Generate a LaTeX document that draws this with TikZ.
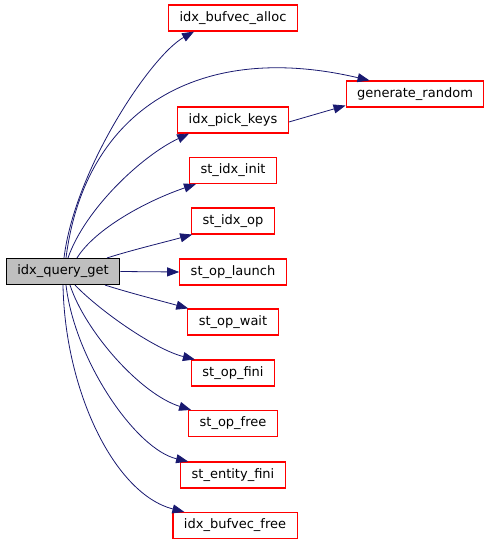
\documentclass[tikz,border=0pt]{standalone}
\usepackage{fontspec}
\setmainfont{DejaVu Sans}
\usetikzlibrary{arrows.meta,positioning,calc}
\definecolor{callblue}{HTML}{191970}
\definecolor{rootgray}{HTML}{BFBFBF}

\begin{document}
\begin{tikzpicture}[x=1pt, y=-1pt, font=\fontsize{13}{15}\selectfont,
  fn/.style={draw=red, line width=1.1pt, fill=white, minimum height=26pt, inner xsep=11pt, inner ysep=2pt},
  root/.style={fn, draw=black, fill=rootgray},
  call/.style={-{Triangle[length=12pt, width=9pt]}, draw=callblue, line width=0.8pt}]
  \useasboundingbox (0,0) rectangle (489,544);
  \node[root] (query) at (63,271.5) {idx\_query\_get};
  \node[fn] (alloc) at (233,18) {idx\_bufvec\_alloc};
  \node[fn] (gen) at (415,94) {generate\_random};
  \node[fn] (pick) at (233,120) {idx\_pick\_keys};
  \node[fn] (init) at (233,170.5) {st\_idx\_init};
  \node[fn] (op) at (233,221) {st\_idx\_op};
  \node[fn] (launch) at (233,272) {st\_op\_launch};
  \node[fn] (wait) at (233,322) {st\_op\_wait};
  \node[fn] (fini) at (233,373) {st\_op\_fini};
  \node[fn] (free) at (233,423.5) {st\_op\_free};
  \node[fn] (entity) at (233,475) {st\_entity\_fini};
  \node[fn] (bfree) at (235,525.5) {idx\_bufvec\_free};
  % upward calls
  \draw[call] ([xshift=1pt]query.north) .. controls +(11,-89) and +(-43,24) .. ([xshift=26pt]alloc.south west);
  \draw[call] ([xshift=3pt]query.north) .. controls +(19,-149) and +(-170,-40) .. ([xshift=24pt]gen.north west);
  \draw[call] ([xshift=5pt]query.north) .. controls +(17,-49) and +(-47,22) .. ([xshift=12pt]pick.south west);
  \draw[call] ([yshift=-2pt]pick.east) -- ([yshift=2pt]gen.south west);
  \draw[call] ([xshift=14pt]query.north) .. controls +(18,-29) and +(-50,17) .. ([xshift=7pt]init.south west);
  \draw[call] ([xshift=44pt]query.north) .. controls +(25,-8) and +(-25,7) .. ([xshift=1pt]op.south west);
  % straight and downward calls
  \draw[call] (query.east) -- (launch.west);
  \draw[call] ([xshift=42pt]query.south) .. controls +(25,8) and +(-25,-7) .. ([xshift=1pt]wait.north west);
  \draw[call] ([xshift=12pt]query.south) .. controls +(25,26) and +(-40,-10) .. ([xshift=4pt]fini.north west);
  \draw[call] ([xshift=7pt]query.south) .. controls +(15,46) and +(-51,-16) .. ([xshift=3pt]free.north west);
  \draw[call] ([xshift=3pt]query.south) .. controls +(9,76) and +(-52,-12) .. ([xshift=8pt]entity.north west);
  \draw[call] (query.south) .. controls +(2,106) and +(-70,-18) .. ([xshift=12pt]bfree.north west);
\end{tikzpicture}
\end{document}
